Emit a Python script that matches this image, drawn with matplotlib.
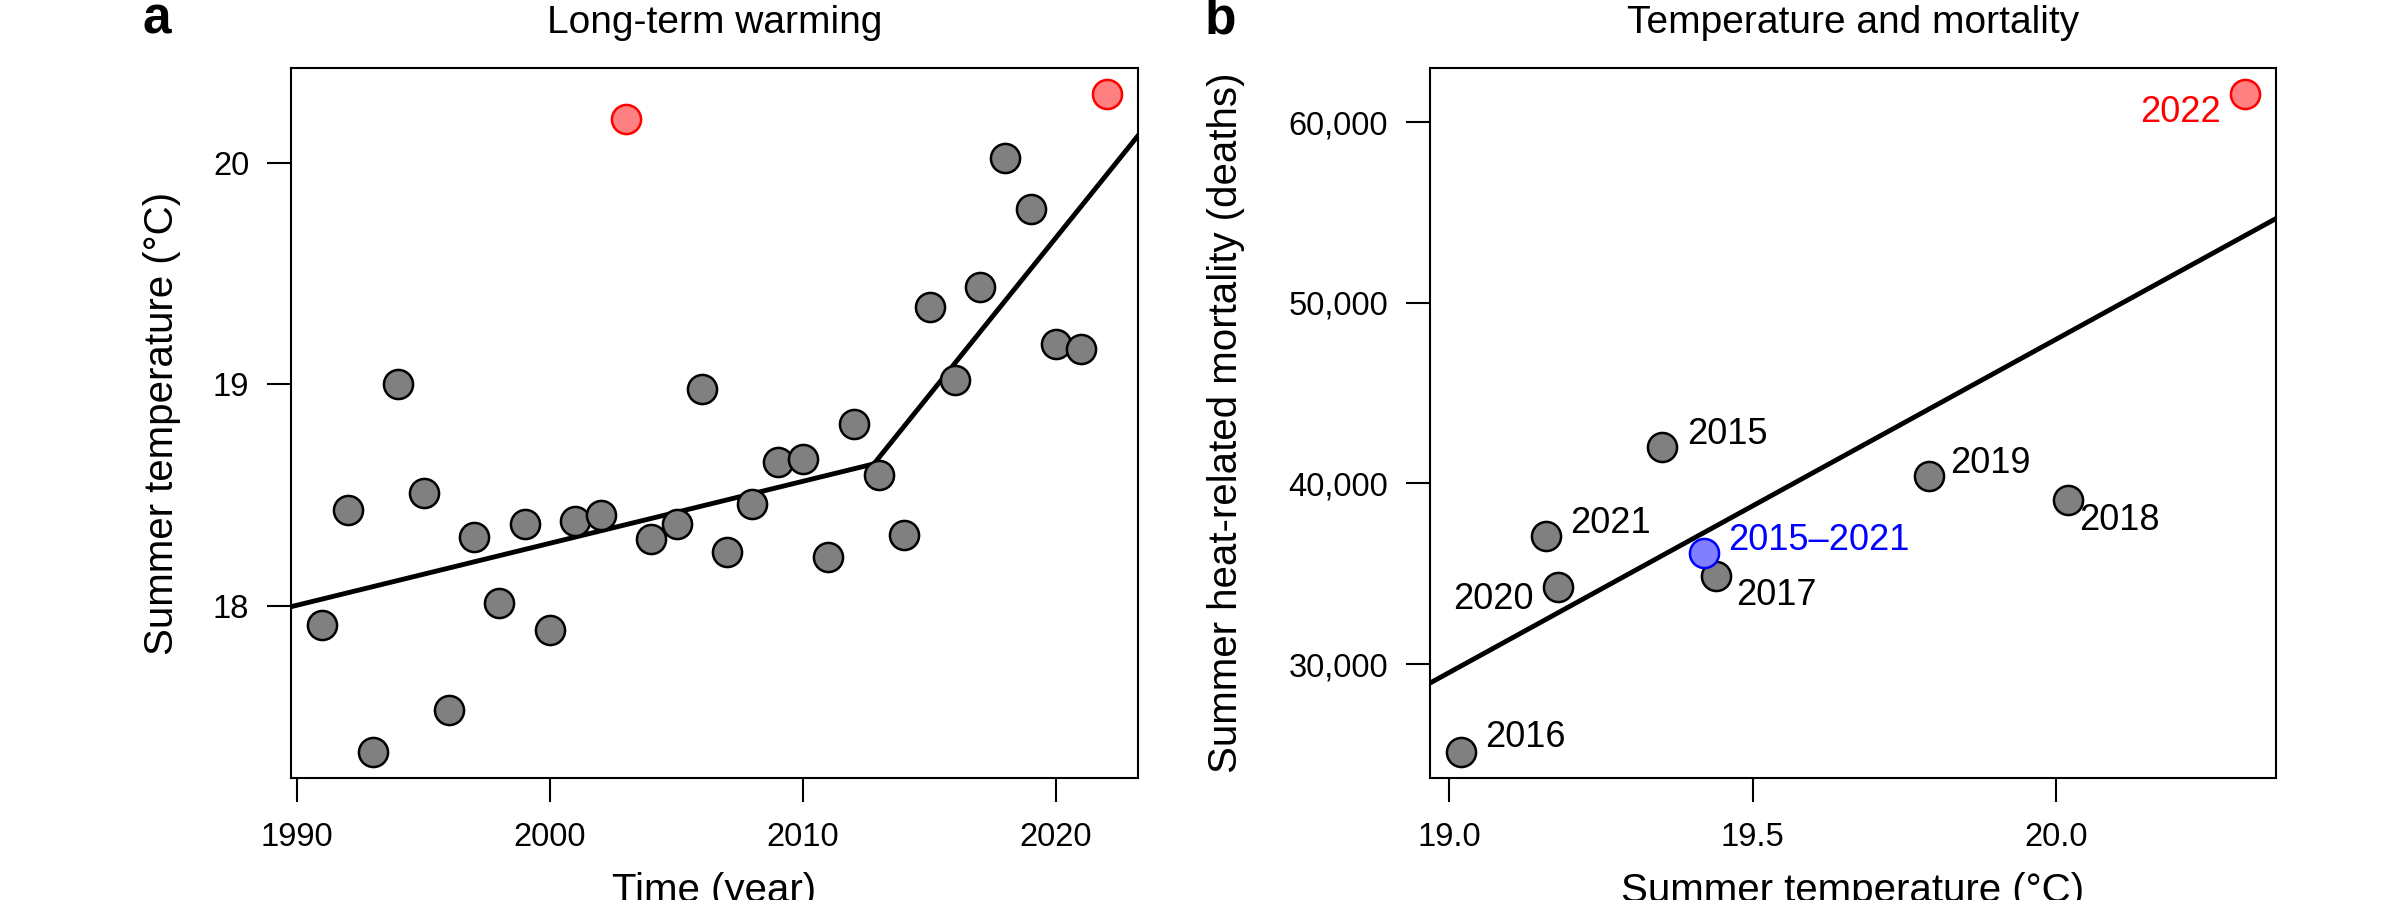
import matplotlib
matplotlib.use("Agg")
import matplotlib.pyplot as plt
import numpy as np
from matplotlib.ticker import FuncFormatter

plt.rcParams['font.family'] = ['Liberation Sans', 'DejaVu Sans']

# ---- panel a: summer temperature by year ----
years = [1991, 1992, 1993, 1994, 1995, 1996, 1997, 1998, 1999, 2000, 2001,
         2002, 2003, 2004, 2005, 2006, 2007, 2008, 2009, 2010, 2011, 2012,
         2013, 2014, 2015, 2016, 2017, 2018, 2019, 2020, 2021, 2022]
summer_temp = [17.91, 18.43, 17.34, 19.00, 18.51, 17.53, 18.31, 18.01, 18.37,
               17.89, 18.38, 18.41, 20.20, 18.30, 18.37, 18.98, 18.24, 18.46,
               18.65, 18.66, 18.22, 18.82, 18.59, 18.32, 19.35, 19.02, 19.44,
               20.02, 19.79, 19.18, 19.16, 20.31]
hot_years = [2003, 2022]

# piecewise trend (break point, value there, slopes per year)
trend_break = 2012.8
trend_break_value = 18.64
slope_before = 0.028
slope_after = 0.142

# ---- panel b: temperature vs heat-related mortality ----
b_labels = ['2015', '2016', '2017', '2018', '2019', '2020', '2021']
b_temp = [19.35, 19.02, 19.44, 20.02, 19.79, 19.18, 19.16]
b_deaths = [42000, 25150, 34900, 39100, 40400, 34250, 37100]
temp_2022, deaths_2022 = 20.31, 61550
mean_label = '2015\u20132021'
mean_temp, mean_deaths = 19.42, 36150

# linear fit (deaths per degree, value at 19.0 degC)
fit_slope = 18460
fit_at_19 = 29530

# label offsets in points: (dx, dy, ha)
b_offsets = {
    '2015': (18, 9, 'left'), '2016': (17, 10, 'left'),
    '2017': (14, -14, 'left'), '2018': (8, -15, 'left'),
    '2019': (15, 9, 'left'), '2020': (-18, -9, 'right'),
    '2021': (17, 9, 'left'),
}

GREY = '#808080'
RED_FILL = '#ff8080'
BLUE_FILL = '#8080ff'
MS = 440
EW = 1.8
TICK_FS = 23.5
LABEL_FS = 29

fig = plt.figure(figsize=(24, 9), dpi=100)
ax_a = fig.add_axes([0.12125, 0.1356, 0.3529, 0.7889])
ax_b = fig.add_axes([0.5958, 0.1356, 0.3525, 0.7889])

for ax in (ax_a, ax_b):
    for sp in ax.spines.values():
        sp.set_linewidth(1.5)
    ax.tick_params(direction='out', length=17, width=1.5, labelsize=TICK_FS)
    ax.tick_params(axis='x', pad=15)
    ax.tick_params(axis='y', pad=13)
    ax.margins(0.04)

# panel a
yrs = np.array(years)
tmp = np.array(summer_temp)
hot = np.isin(yrs, hot_years)
ax_a.scatter(yrs[~hot], tmp[~hot], s=MS, c=GREY, edgecolors='black',
             linewidths=EW, zorder=3)
ax_a.scatter(yrs[hot], tmp[hot], s=MS, c=RED_FILL, edgecolors='red',
             linewidths=EW, zorder=3)
x0, x1 = ax_a.get_xlim()
y0, y1 = ax_a.get_ylim()
ax_a.set_xlim(x0, x1)
ax_a.set_ylim(y0, y1)
tx = np.array([x0, trend_break, x1])
ty = np.where(tx <= trend_break,
              trend_break_value + slope_before * (tx - trend_break),
              trend_break_value + slope_after * (tx - trend_break))
ax_a.plot(tx, ty, color='black', lw=3.5, zorder=2)
ax_a.set_xticks([1990, 2000, 2010, 2020])
ax_a.set_yticks([18, 19, 20])
ax_a.set_title('Long-term warming', fontsize=28, pad=25)
ax_a.set_xlabel('Time (year)', fontsize=LABEL_FS)
ax_a.set_ylabel('Summer temperature (\u00b0C)', fontsize=LABEL_FS)
ax_a.xaxis.set_label_coords(0.5, -0.1324)
ax_a.yaxis.set_label_coords(-0.130, 0.5)

# panel b
ax_b.scatter(b_temp, b_deaths, s=MS, c=GREY, edgecolors='black',
             linewidths=EW, zorder=3)
ax_b.scatter([temp_2022], [deaths_2022], s=MS, c=RED_FILL, edgecolors='red',
             linewidths=EW, zorder=3)
ax_b.scatter([mean_temp], [mean_deaths], s=MS, c=BLUE_FILL, edgecolors='blue',
             linewidths=EW, zorder=4)
x0, x1 = ax_b.get_xlim()
y0, y1 = ax_b.get_ylim()
ax_b.set_xlim(x0, x1)
ax_b.set_ylim(y0, y1)
fx = np.array([x0, x1])
ax_b.plot(fx, fit_at_19 + fit_slope * (fx - 19.0), color='black', lw=3.5, zorder=2)

for lab, t, d in zip(b_labels, b_temp, b_deaths):
    dx, dy, ha = b_offsets[lab]
    ax_b.annotate(lab, (t, d), xytext=(dx, dy), textcoords='offset points',
                  ha=ha, va='center', fontsize=26)
ax_b.annotate('2022', (temp_2022, deaths_2022), xytext=(-17, -13),
              textcoords='offset points', ha='right', va='center',
              fontsize=26, color='red')
ax_b.annotate(mean_label, (mean_temp, mean_deaths), xytext=(17, 9),
              textcoords='offset points', ha='left', va='center',
              fontsize=26, color='blue')

ax_b.set_xticks([19.0, 19.5, 20.0])
ax_b.xaxis.set_major_formatter(FuncFormatter(lambda v, p: f'{v:.1f}'))
ax_b.set_yticks([30000, 40000, 50000, 60000])
ax_b.yaxis.set_major_formatter(FuncFormatter(lambda v, p: f'{v:,.0f}'))
ax_b.set_title('Temperature and mortality', fontsize=28, pad=25)
ax_b.set_xlabel('Summer temperature (\u00b0C)', fontsize=LABEL_FS)
ax_b.set_ylabel('Summer heat-related mortality (deaths)', fontsize=LABEL_FS)
ax_b.xaxis.set_label_coords(0.5, -0.1324)
ax_b.yaxis.set_label_coords(-0.2187, 0.5)

fig.text(142 / 2400, 1 - 33 / 900, 'a', fontsize=37, fontweight='bold',
         ha='left', va='baseline')
fig.text(1205 / 2400, 1 - 33 / 900, 'b', fontsize=37, fontweight='bold',
         ha='left', va='baseline')

fig.savefig('out.png', dpi=100, facecolor='white')
